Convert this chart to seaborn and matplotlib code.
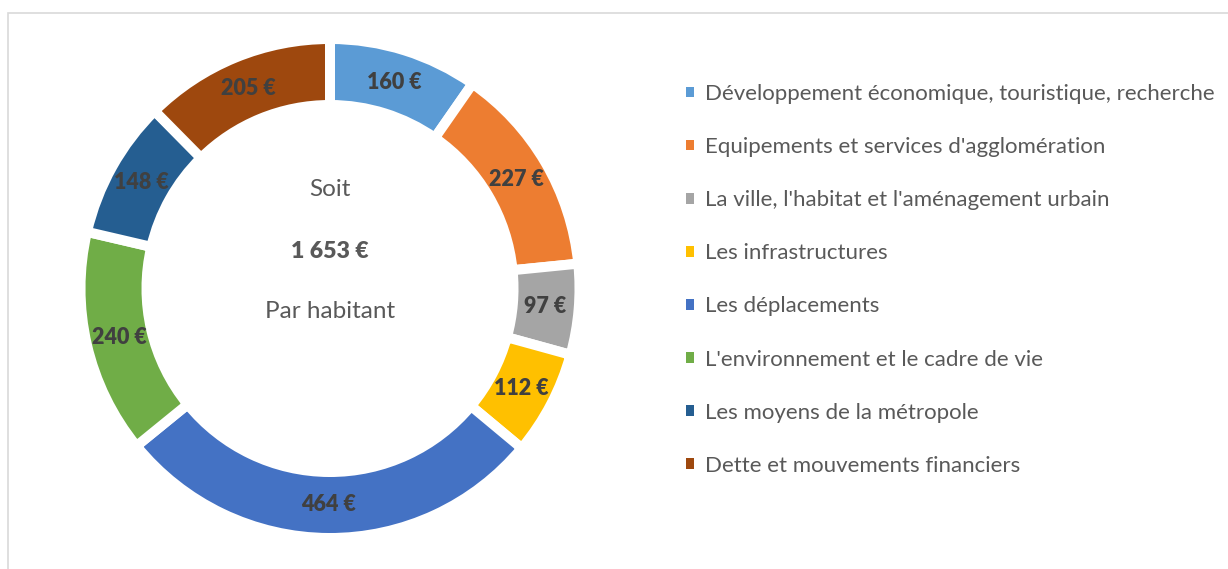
import matplotlib
matplotlib.use("Agg")
import matplotlib.pyplot as plt
import seaborn as sns
import numpy as np

# Data
categories = [
    "Développement économique, touristique, recherche",
    "Equipements et services d'agglomération",
    "La ville, l'habitat et l'aménagement urbain",
    "Les infrastructures",
    "Les déplacements",
    "L'environnement et le cadre de vie",
    "Les moyens de la métropole",
    "Dette et mouvements financiers",
]
values = [160, 227, 97, 112, 464, 240, 148, 205]
value_labels = ["160 €", "227 €", "97 €", "112 €", "464 €", "240 €", "148 €", "205 €"]
center_lines = ["Soit", "1 653 €", "Par habitant"]

colors = ["#5B9BD5", "#ED7D31", "#A5A5A5", "#FFC000",
          "#4472C4", "#70AD47", "#255E91", "#9E480E"]

sns.set_theme(style="white")
plt.rcParams["font.family"] = ["Lato", "DejaVu Sans"]
palette = sns.color_palette(colors)

W, H = 1228, 569
fig = plt.figure(figsize=(W / 100, H / 100), dpi=100)

# light grey frame around the chart area
frame = plt.Rectangle((8 / W, 0 - 0.05), 1.1, (H - 12.5) / H + 0.05,
                      transform=fig.transFigure, fill=False,
                      edgecolor="#D9D9D9", linewidth=1.2)
fig.patches.append(frame)

# donut axes (pixel geometry)
cx, cy = 330, H - 288.5
R = 249.5
ax = fig.add_axes([(cx - R) / W, (cy - R) / H, 2 * R / W, 2 * R / H])

wedges, _ = ax.pie(values, colors=palette, startangle=90, counterclock=False,
                   radius=1.0,
                   wedgeprops=dict(width=0.2645, edgecolor="white", linewidth=7.2))
ax.set_xlim(-1, 1)
ax.set_ylim(-1, 1)
ax.set_aspect("equal")
ax.axis("off")

# value labels at mid-ring
total = sum(values)
cum = np.cumsum([0] + values)
for i, lab in enumerate(value_labels):
    mid = (cum[i] + cum[i + 1]) / 2 / total * 2 * np.pi
    r = 0.866
    ax.text(r * np.sin(mid), r * np.cos(mid), lab, ha="center", va="center",
            fontsize=15.5, fontweight="heavy", color="#404040")

# centre text
ax.text(0, (288.5 - 190) / R, center_lines[0], ha="center", va="center",
        fontsize=17.5, color="#595959")
ax.text(0, (288.5 - 252) / R, center_lines[1], ha="center", va="center",
        fontsize=16.7, fontweight="heavy", color="#595959")
ax.text(0, (288.5 - 312) / R, center_lines[2], ha="center", va="center",
        fontsize=17.5, color="#595959")

# legend
leg = fig.legend(wedges, categories, loc="upper left",
                 bbox_to_anchor=(666 / W, 1 - 64 / H), frameon=False,
                 fontsize=16, labelcolor="#595959", handlelength=0.36,
                 handleheight=0.36, handletextpad=0.5, labelspacing=1.49)
for h in leg.legend_handles:
    h.set_edgecolor("none")
    h.set_linewidth(0)

fig.savefig("out.png", dpi=100)
